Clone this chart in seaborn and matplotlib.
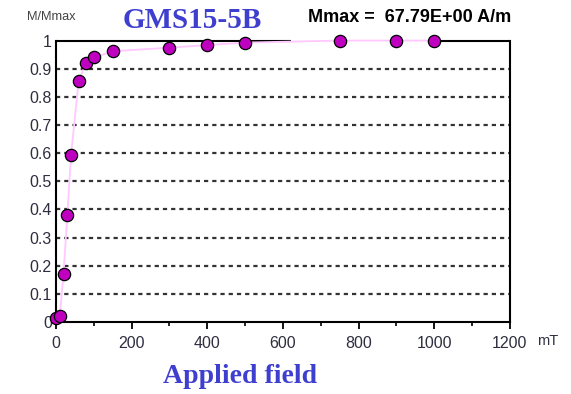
import matplotlib
matplotlib.use("Agg")
import matplotlib.pyplot as plt
import seaborn as sns
import pandas as pd
from matplotlib.ticker import MultipleLocator

# IRM acquisition data: applied field (mT) vs normalised magnetisation
field_mT = [0, 10, 20, 30, 40, 60, 80, 100, 150, 300, 400, 500, 750, 900, 1000]
m_norm = [0.015, 0.022, 0.17, 0.38, 0.595, 0.857, 0.921, 0.94, 0.962,
          0.975, 0.984, 0.993, 1.0, 1.0, 1.0]
y_ticks = [0, 0.1, 0.2, 0.3, 0.4, 0.5, 0.6, 0.7, 0.8, 0.9, 1]
y_tick_labels = ["0", "0.1", "0.2", "0.3", "0.4", "0.5", "0.6", "0.7", "0.8", "0.9", "1"]
x_ticks = [0, 200, 400, 600, 800, 1000, 1200]

df = pd.DataFrame({"field": field_mT, "m": m_norm})

sns.set_theme(style="white")
plt.rcParams["font.family"] = ["Liberation Sans", "DejaVu Sans"]

fig = plt.figure(figsize=(5.71, 3.94), dpi=100)
ax = fig.add_axes([0.098, 0.183, 0.795, 0.714])

label_color = "#2e2e40"
title_blue = "#3f3fcf"

# dashed horizontal grid
for yv in y_ticks[1:-1]:
    ax.axhline(yv, color="#333333", lw=1.6, ls=(0, (1.9, 1.8)), zorder=1)

# top frame segments
ax.hlines(1.0, 0, 622, color="black", lw=1.5, zorder=2, clip_on=False)
ax.hlines(1.0, 1000, 1200, color="black", lw=1.5, zorder=2, clip_on=False)

sns.lineplot(data=df, x="field", y="m", ax=ax, color="#ffc8ff", lw=1.3,
             zorder=3, sort=False, estimator=None)
ln = ax.lines[-1]
ln.set_clip_on(False)
sns.scatterplot(data=df, x="field", y="m", ax=ax, color="#c000c0",
                edgecolor="black", linewidth=0.9, s=78, zorder=4,
                clip_on=False)

ax.set_xlim(0, 1200)
ax.set_ylim(0, 1)
ax.set_xticks(x_ticks)
ax.set_xticklabels([str(v) for v in x_ticks], fontsize=11.5, color=label_color)
ax.xaxis.set_minor_locator(MultipleLocator(100))
ax.set_yticks(y_ticks)
ax.set_yticklabels(y_tick_labels, fontsize=11.5, color=label_color)
ax.tick_params(axis="x", which="major", direction="out", length=5, width=1.3,
               color="black", pad=5, bottom=True)
ax.tick_params(axis="x", which="minor", direction="out", length=3, width=1.2,
               color="black", bottom=True)
ax.tick_params(axis="y", length=0, pad=3)
ax.set_xlabel("")
ax.set_ylabel("")

for side in ["left", "bottom", "right"]:
    ax.spines[side].set_visible(True)
    ax.spines[side].set_color("black")
    ax.spines[side].set_linewidth(1.5)
ax.spines["top"].set_visible(False)

fig.text(0.047, 0.957, "M/Mmax", fontsize=9.2, color="#444444", va="center")
fig.text(0.336, 0.948, "GMS15-5B", fontsize=21, color=title_blue,
         family=["Liberation Serif", "DejaVu Serif"], weight="bold",
         ha="center", va="center")
fig.text(0.717, 0.955, "Mmax =  67.79E+00 A/m", fontsize=13, color="black",
         weight="bold", ha="center", va="center")
fig.text(0.941, 0.135, "mT", fontsize=10.5, color=label_color, ha="left", va="center")
fig.text(0.42, 0.044, "Applied field", fontsize=20, color=title_blue,
         family=["Liberation Serif", "DejaVu Serif"], weight="bold",
         ha="center", va="center")

fig.savefig("out.png", dpi=100, facecolor="white")
